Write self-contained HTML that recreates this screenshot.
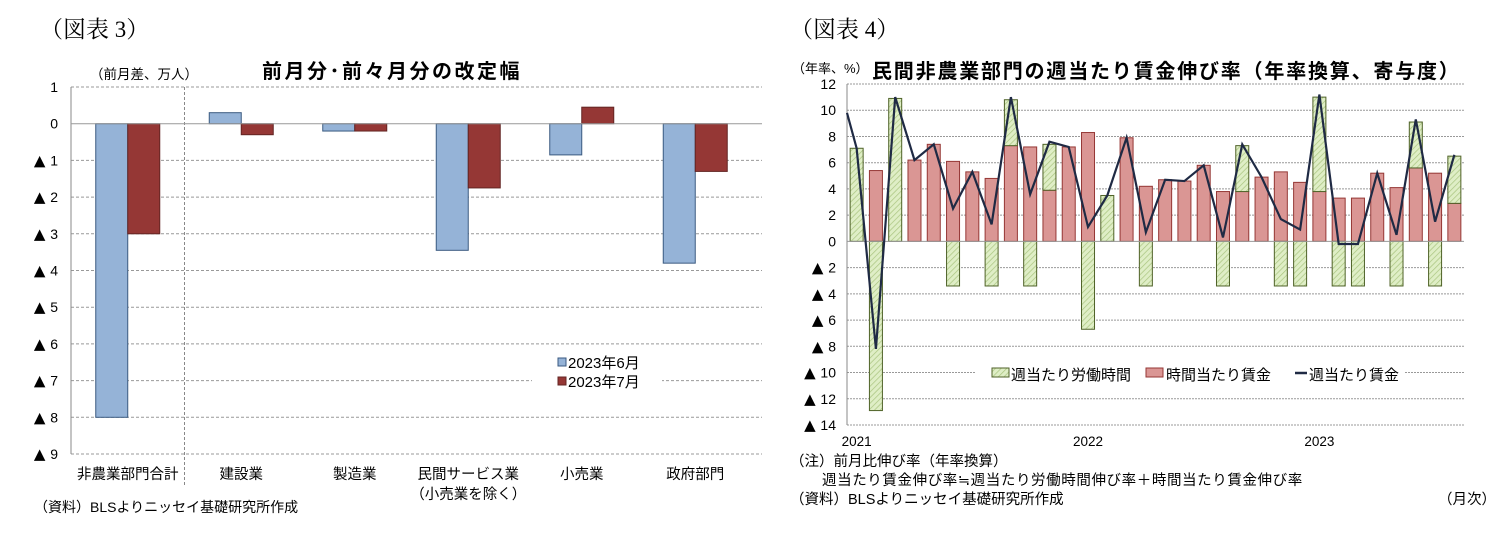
<!DOCTYPE html>
<html><head><meta charset="utf-8">
<style>
html,body{margin:0;padding:0;background:#fff;}
body{width:1506px;height:541px;overflow:hidden;position:relative;font-family:"Liberation Sans","Noto Sans CJK JP",sans-serif;}
svg{position:absolute;left:0;top:0;}
text{font-family:"Liberation Sans","Noto Sans CJK JP",sans-serif;fill:#000;}
.serif{font-family:"Liberation Serif","Noto Serif CJK SC",serif;}
.tri{font-family:"DejaVu Sans",sans-serif;font-size:15px;}
</style></head>
<body>
<svg id="svg" width="1506" height="541">
<defs>
<pattern id="hatch" width="4" height="4" patternUnits="userSpaceOnUse" patternTransform="rotate(45)">
<rect width="4" height="4" fill="#dfeec6"/><line x1="0" y1="0" x2="0" y2="4" stroke="#a9c47f" stroke-width="1.4"/>
</pattern>
</defs>
<text class="serif" x="40" y="37" font-size="23">（図表 3）</text>
<text class="serif" x="790" y="37" font-size="23">（図表 4）</text>
<text x="262" y="78" font-size="20" font-weight="bold" letter-spacing="2.5">前月分･前々月分の改定幅</text>
<text x="90" y="79" font-size="13.5">（前月差、万人）</text>
<text x="34" y="512" font-size="14">（資料）BLSよりニッセイ基礎研究所作成</text>
<text x="872" y="78" font-size="20" font-weight="bold" letter-spacing="1.8">民間非農業部門の週当たり賃金伸び率（年率換算、寄与度）</text>
<text x="792" y="73" font-size="13">（年率、%）</text>
<text x="790" y="466" font-size="14.5">（注）前月比伸び率（年率換算）</text>
<text x="822" y="485" font-size="14.5" letter-spacing="0.6">週当たり賃金伸び率≒週当たり労働時間伸び率＋時間当たり賃金伸び率</text>
<text x="790" y="504" font-size="14.5">（資料）BLSよりニッセイ基礎研究所作成</text>
<text x="1438" y="504" font-size="14.5">（月次）</text>
<g id="c3"></g><g id="c4"></g>
</svg>
<script>
// ---- Chart 3 data ----
const cat3 = ["非農業部門合計","建設業","製造業","民間サービス業","小売業","政府部門"];
const jun3 = [-8.0, 0.3, -0.2, -3.45, -0.85, -3.8];
const jul3 = [-3.0, -0.3, -0.2, -1.75, 0.45, -1.3];
const ticks3 = [1,0,-1,-2,-3,-4,-5,-6,-7,-8,-9];

// ---- Chart 4 data ----
const months4 = 32;
const yearLabels4 = ["2021","2022","2023"];
const yearIdx4 = [0,12,24];
const hourly4 = [0,5.4,0,6.2,7.4,6.1,5.3,4.8,7.3,7.2,3.9,7.2,8.3,0,7.9,4.2,4.7,4.6,5.8,3.8,3.8,4.9,5.3,4.5,3.8,3.3,3.3,5.2,4.1,5.6,5.2,2.9];
const hours4 = [7.1,-12.9,10.9,0,0,-3.4,0,-3.4,3.5,-3.4,3.5,0,-6.7,3.5,0,-3.4,0,0,0,-3.4,3.5,0,-3.4,-3.4,7.2,-3.4,-3.4,0,-3.4,3.5,-3.4,3.6];
const weekly4 = [7.1,-8.2,11.0,6.2,7.4,2.5,5.3,1.3,11.0,3.6,7.6,7.2,1.1,3.5,7.9,0.7,4.7,4.6,5.8,0.3,7.4,4.9,1.7,0.9,11.2,-0.2,-0.2,5.2,0.5,9.3,1.5,6.6];
const weeklyStart4 = 9.8;
const ticks4 = [12,10,8,6,4,2,0,-2,-4,-6,-8,-10,-12,-14];

const NS="http://www.w3.org/2000/svg";
function mk(parent,tag,attrs,txt){const e=document.createElementNS(NS,tag);for(const k in attrs)e.setAttribute(k,attrs[k]);if(txt!==undefined)e.textContent=txt;parent.appendChild(e);return e;}
function tick(g,x,yy,v){
  const t=mk(g,'text',{x:x,y:yy,'font-size':14,'text-anchor':'end'});
  if(v<0){mk(t,'tspan',{class:'tri'},"▲ ");mk(t,'tspan',{},String(-v));}
  else t.textContent=String(v);
  return t;
}

// Chart 3
(function(){
  const g=document.getElementById('c3');
  const L=71,R=752,T=87,B=454,ymax=1,ymin=-9;
  const y=v=>T+(ymax-v)*(B-T)/(ymax-ymin);
  const step=(R-L)/cat3.length;
  const cx=i=>L+step*(i+0.5);
  ticks3.forEach(t=>{
    if(t!==0){const gl=mk(g,'line',{x1:L,x2:762,y1:y(t),y2:y(t),stroke:'#999','stroke-dasharray':'3,2','stroke-width':1});
    
    }
    const tx=tick(g,L-13,y(t)+5,t);
    
    
  });
  const ax=mk(g,'line',{x1:L,x2:L,y1:T,y2:B,stroke:'#888'});
  
  
  const dv=mk(g,'line',{x1:L+step,x2:L+step,y1:T,y2:487,stroke:'#888','stroke-dasharray':'3,2'});
  
  
  const bw=32;
  cat3.forEach((c,i)=>{
    [[jun3,'#95b3d7','#3a5a80',-bw],[jul3,'#953735','#632523',0]].forEach(([arr,fill,st,off])=>{
      const v=arr[i];const y0=y(0),y1=y(v);
      const r=mk(g,'rect',{x:cx(i)+off,y:Math.min(y0,y1),width:bw,height:Math.abs(y1-y0),fill:fill,stroke:st,'stroke-width':1});
      
      
    });
    const t=mk(g,'text',{x:cx(i),y:479,'font-size':14.5,'text-anchor':'middle'},c);
    
    
  });
  const sub=mk(g,'text',{x:cx(3),y:499,'font-size':14.5,'text-anchor':'middle'},"（小売業を除く）");
  
  
  const zx=mk(g,'line',{x1:L,x2:762,y1:y(0),y2:y(0),stroke:'#999'});
  
  
  const lg=mk(g,'g',{});
  
  
  mk(lg,'rect',{x:532,y:352,width:130,height:44,fill:'#fff'});
  mk(lg,'rect',{x:558,y:358,width:8,height:8,fill:'#95b3d7',stroke:'#3a5a80'});
  mk(lg,'text',{x:568,y:368,'font-size':15},"2023年6月");
  mk(lg,'rect',{x:558,y:377,width:8,height:8,fill:'#953735',stroke:'#632523'});
  mk(lg,'text',{x:568,y:387,'font-size':15},"2023年7月");
})();

// Chart 4
(function(){
  const g=document.getElementById('c4');
  const L=847,R=1464,T=84,B=425,ymax=12,ymin=-14;
  const y=v=>T+(ymax-v)*(B-T)/(ymax-ymin);
  const step=(R-L)/months4;
  const cx=i=>L+step*(i+0.5);
  ticks4.forEach(t=>{
    if(t!==0){const gl=mk(g,'line',{x1:L,x2:R,y1:y(t),y2:y(t),stroke:'#999','stroke-dasharray':'2,1','stroke-width':1});
    
    }
    const tx=tick(g,L-11,y(t)+5,t);
    
    
  });
  const bw=13;
  for(let i=0;i<months4;i++){
    const h=hourly4[i],w=hours4[i];
    if(h>0){const r=mk(g,'rect',{x:cx(i)-bw/2,y:y(h),width:bw,height:y(0)-y(h),fill:'#da9694',stroke:'#953735','stroke-width':1});
      
      }
    if(w!==0){const base=w>0?h:0;const top=base+w;
      const r=mk(g,'rect',{x:cx(i)-bw/2,y:Math.min(y(base),y(top)),width:bw,height:Math.abs(y(top)-y(base)),fill:'url(#hatch)',stroke:'#4f6228','stroke-width':1});
      
      }
  }
  const ax=mk(g,'line',{x1:L,x2:L,y1:T,y2:B,stroke:'#888'});
  
  
  const zx=mk(g,'line',{x1:L,x2:R,y1:y(0),y2:y(0),stroke:'#999'});
  
  
  let pts=[L+','+y(weeklyStart4)];
  weekly4.forEach((v,i)=>pts.push(cx(i)+','+y(v)));
  const pl=mk(g,'polyline',{points:pts.join(' '),fill:'none',stroke:'#1f2a44','stroke-width':2.2,'stroke-linejoin':'miter'});
  
  
  yearLabels4.forEach((s,k)=>{
    const t=mk(g,'text',{x:cx(yearIdx4[k]),y:446,'font-size':13.5,'text-anchor':'middle'},s);
    
    
  });
  const lg=mk(g,'g',{});
  
  
  mk(lg,'rect',{x:975,y:362,width:430,height:24,fill:'#fff'});
  mk(lg,'rect',{x:992,y:368,width:17,height:9,fill:'url(#hatch)',stroke:'#4f6228'});
  mk(lg,'text',{x:1011,y:380,'font-size':15},"週当たり労働時間");
  mk(lg,'rect',{x:1146,y:368,width:17,height:9,fill:'#da9694',stroke:'#953735'});
  mk(lg,'text',{x:1166,y:380,'font-size':15},"時間当たり賃金");
  mk(lg,'line',{x1:1295,x2:1307,y1:373,y2:373,stroke:'#1f2a44','stroke-width':2.5});
  mk(lg,'text',{x:1309,y:380,'font-size':15},"週当たり賃金");
})();
</script>
</body></html>
